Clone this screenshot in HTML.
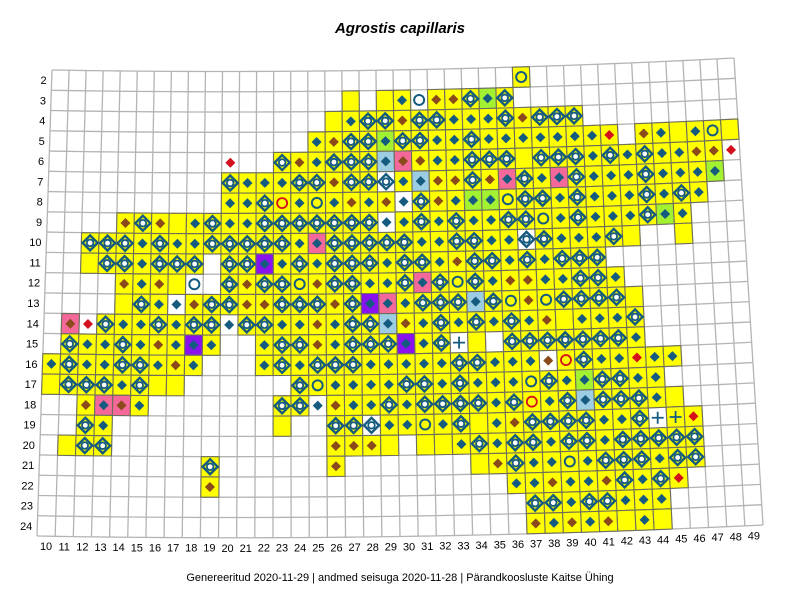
<!DOCTYPE html>
<html><head><meta charset="utf-8"><title>Agrostis capillaris</title>
<style>
html,body{margin:0;padding:0;background:#fff;}
#wrap{position:relative;width:800px;height:600px;overflow:hidden;font-family:"Liberation Sans",Arial,sans-serif;}
svg text{font-family:"Liberation Sans",Arial,sans-serif;}
</style></head>
<body>
<div id="wrap">
<svg id="map" width="800" height="600" viewBox="0 0 800 600" xmlns="http://www.w3.org/2000/svg">
<text x="400" y="33" text-anchor="middle" font-size="15" font-weight="bold" font-style="italic" fill="#000">Agrostis capillaris</text>
<text x="400" y="581" text-anchor="middle" font-size="11" fill="#000">Genereeritud 2020-11-29  |  andmed seisuga 2020-11-28  |  Pärandkoosluste Kaitse Ühing</text>
<g id="grid"></g>
<g id="cells"></g>
<g id="marks"></g>
<g id="labels"></g>
</svg>
</div>
<script>
// grid axes
const rowNumbers = [2,3,4,5,6,7,8,9,10,11,12,13,14,15,16,17,18,19,20,21,22,23,24];
const colNumbers = [10,11,12,13,14,15,16,17,18,19,20,21,22,23,24,25,26,27,28,29,30,31,32,33,34,35,36,37,38,39,40,41,42,43,44,45,46,47,48,49];
// occupied cells per row: start column + codes
const rowIds    = [2,3,4,5,6,7,8,9,10,11,12,13,14,15,16,17,18,19,20,21,22,23,24];
const rowStarts = [37,27,26,25,20,20,20,14,12,12,14,14,11,11,10,10,12,12,11,19,19,37,37];
const rowCodes  = [
"C",
"Y.YDcBBOGO",
"YDOOBOODDDOBOOO",
"DBOOGOODDODDDDDDDR.BDYDCY",
"r..OBDOOOLpBDDOOOYOOODODODDBBr",
"ODDDOOBOOwDLBBOBPODPODDDODDDG",
"DDOQDCDBDBWOBDGGCOODODDDODOD",
"BOBYDODDOOOOOOOWDODODDOOCDODDDOGD",
"OOODODDOOOOODPOOOOODDOODDwODDDOY..Y",
"YOODOOO.OOVDODOOODOODBOODODOOO",
"BDBYc.OBOOCBOODDOPOCODBBDDOOD",
"YODWBOOBBOOOBOVPDOOOLOCBCOOOOY",
"prODDODOOWOODDBDOOLBDODODODBYDDDO",
"ODDODBDVD..DOOBDOOOVDOXY.OOOOOOOD",
"DODDOODBD...DODOOODDDDDOODDDZQODDRDD",
"YOOODOYY......OCDDDDOODODDDCODGOODD",
"BPpD.......OOWBDDODOOOODOQDOLOOODY",
"OD.........Y..OOwDDCDOYDBOOOODDOXKR",
"YOO............BBBY.YYDODOODOODOOOOO",
"O......B.......YBODDCDOOODOO",
"B................DDBDDBODOR",
"OODOODDD",
"BDBDBYDY"
];
const NS='http://www.w3.org/2000/svg';
const TL=[52,70],TR=[734,58],BL=[37,536],BR=[763,525];
const BOW=6;
const NC=colNumbers.length, NR=rowNumbers.length;
function P(u,v){const a=u/NC,b=v/NR;
 const x=(1-b)*((1-a)*TL[0]+a*TR[0])+b*((1-a)*BL[0]+a*BR[0]);
 const y=(1-b)*((1-a)*TL[1]+a*TR[1])+b*((1-a)*BL[1]+a*BR[1])+BOW*4*a*(1-a);return [x,y];}
function mk(tag,attrs,parent){const e=document.createElementNS(NS,tag);for(const k in attrs)e.setAttribute(k,attrs[k]);parent.appendChild(e);return e;}
const grid=document.getElementById('grid'),cells=document.getElementById('cells'),marks=document.getElementById('marks'),labels=document.getElementById('labels');
for(let i=0;i<=NC;i++){const a=P(i,0),b=P(i,NR);
 const l=mk('line',{x1:a[0],y1:a[1],x2:b[0],y2:b[1],stroke:'#b4b4b4','stroke-width':1.3},grid);
 
 }
for(let j=0;j<=NR;j++){let pts=[];for(let i=0;i<=NC;i++){pts.push(P(i,j).join(','));}
 const l=mk('polyline',{points:pts.join(' '),fill:'none',stroke:'#b4b4b4','stroke-width':1.3},grid);
 
 }
rowNumbers.forEach((r,j)=>{const p=P(0,j+0.5);
 const t=mk('text',{x:p[0]-5,y:p[1]+4,'text-anchor':'end','font-size':11,fill:'#000'},labels);t.textContent=r;
 
 });
colNumbers.forEach((c,i)=>{const p=P(i+0.5,NR);
 const t=mk('text',{x:p[0],y:p[1]+14,'text-anchor':'middle','font-size':11,fill:'#000'},labels);t.textContent=c;
 
 });
const BLUE='#155b80',BROWN='#8a4a1c',RED='#d3101c';
const fills={P:'#f4689a',p:'#f4689a',V:'#8a12ee',L:'#9dcde2',G:'#a2f232'};
function diamond(cx,cy,h,attrs){return mk('polygon',Object.assign({points:`${cx},${cy-h} ${cx+h},${cy} ${cx},${cy+h} ${cx-h},${cy}`},attrs),marks);}
rowIds.forEach((r,k)=>{const j=rowNumbers.indexOf(r);const s=rowCodes[k];
 for(let q=0;q<s.length;q++){const ch=s[q];if(ch==='.')continue;
  const i=colNumbers.indexOf(rowStarts[k]+q);
  const onWhite='WwZXrc'.indexOf(ch)>=0;
  if(!onWhite){const a=P(i,j),b=P(i+1,j),c=P(i+1,j+1),d=P(i,j+1);
   const poly=mk('polygon',{points:`${a} ${b} ${c} ${d}`,fill:fills[ch]||'#ffff00',stroke:'#6e6e5a','stroke-width':1.1},cells);
   
   }
  const m=P(i+0.5,j+0.5),cx=m[0],cy=m[1];let e=null;
  if('DPVLGW'.indexOf(ch)>=0){e=diamond(cx,cy,5,{fill:BLUE});}
  else if('BpZ'.indexOf(ch)>=0){e=diamond(cx,cy,5,{fill:BROWN});}
  else if(ch==='R'||ch==='r'){e=diamond(cx,cy,5,{fill:RED});}
  else if(ch==='O'||ch==='w'){e=mk('g',{},marks);
   const d=document.createElementNS(NS,'polygon');d.setAttribute('points',`${cx},${cy-7.5} ${cx+7.5},${cy} ${cx},${cy+7.5} ${cx-7.5},${cy}`);d.setAttribute('fill','none');d.setAttribute('stroke',BLUE);d.setAttribute('stroke-width','2.4');e.appendChild(d);
   const c=document.createElementNS(NS,'circle');c.setAttribute('cx',cx);c.setAttribute('cy',cy);c.setAttribute('r','3.3');c.setAttribute('fill','#fff');c.setAttribute('stroke',BLUE);c.setAttribute('stroke-width','1.8');e.appendChild(c);}
  else if(ch==='C'||ch==='c'){e=mk('circle',{cx:cx,cy:cy,r:5,fill:'none',stroke:BLUE,'stroke-width':2},marks);}
  else if(ch==='Q'){e=mk('circle',{cx:cx,cy:cy,r:5,fill:'none',stroke:RED,'stroke-width':1.8},marks);}
  else if(ch==='X'||ch==='K'){e=mk('path',{d:`M${cx-6},${cy}H${cx+6}M${cx},${cy-6}V${cy+6}`,stroke:BLUE,'stroke-width':1.8,fill:'none'},marks);}
  if(e){
   
   }
 }});
</script>
</body></html>
